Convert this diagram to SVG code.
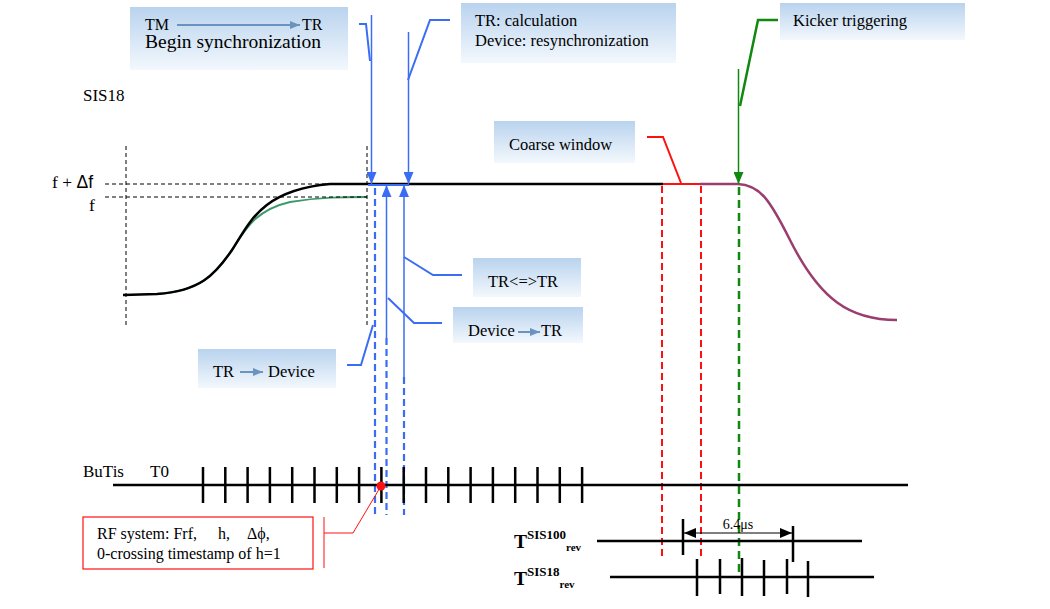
<svg xmlns="http://www.w3.org/2000/svg" width="1050" height="609" viewBox="0 0 1050 609">
<defs>
<linearGradient id="g" x1="0" y1="0" x2="0" y2="1"><stop offset="0" stop-color="#b9d3ee"/><stop offset="1" stop-color="#f3f8fd"/></linearGradient>
<marker id="ab" viewBox="0 0 12 10" refX="12" refY="5" markerWidth="12" markerHeight="10" markerUnits="userSpaceOnUse" orient="auto"><path d="M0,0 L12,5 L0,10 z" fill="#3a6cf4"/></marker>
<marker id="ag" viewBox="0 0 12 10" refX="12" refY="5" markerWidth="12" markerHeight="10" markerUnits="userSpaceOnUse" orient="auto"><path d="M0,0 L12,5 L0,10 z" fill="#118811"/></marker>
<marker id="as" viewBox="0 0 10 8" refX="10" refY="4" markerWidth="10" markerHeight="8" markerUnits="userSpaceOnUse" orient="auto"><path d="M0,0 L10,4 L0,8 z" fill="#6a93c0"/></marker>
<marker id="ak" viewBox="0 0 12 10" refX="12" refY="5" markerWidth="12" markerHeight="10" markerUnits="userSpaceOnUse" orient="auto-start-reverse"><path d="M0,0 L12,5 L0,10 z" fill="#000"/></marker>
</defs>
<style>
.box{fill:url(#g)}
.t{font-family:"Liberation Serif","Times New Roman",serif;font-size:16.5px;fill:#000}
.f16{font-size:16px}
.f17{font-size:17px}
.f18{font-size:17.5px}
.f19{font-size:19.5px}
.f14{font-size:14px}
.sup{font-size:13px}
.sub{font-size:11px}
.s{font-family:"Liberation Sans",Arial,sans-serif}
.b{font-weight:bold}
.bl{stroke:#3a6cf4;fill:none;stroke-width:1.5}
.bc{stroke:#3a6cf4;fill:none;stroke-width:2}
.bd{stroke:#3a6cf4;fill:none;stroke-width:2.2;stroke-dasharray:7,4}
.rd{stroke:#ff1010;fill:none;stroke-width:2;stroke-dasharray:7,4}
.rc{stroke:#ff1010;fill:none;stroke-width:2}
.gd{stroke:#118811;fill:none;stroke-width:2.5;stroke-dasharray:8,5}
.gc{stroke:#118811;fill:none;stroke-width:2.5}
.kd{stroke:#000;fill:none;stroke-width:1;stroke-dasharray:4,3}
.k{stroke:#000;fill:none;stroke-width:2.5}
.sa{stroke:#6a93c0;stroke-width:2;fill:none}
</style>

<g id="curves">
<path d="M157,294 C200,291 215,275 232,250 C245,230 255,210 290,202 C320,197 345,197 367,197" stroke="#3a9a6a" stroke-width="2" fill="none"/>
<path d="M123,295 L157,294 C200,291 215,275 232,250 C250,222 262,190 330,184 L663,184" class="k" stroke-width="2"/>
<path d="M700,184 L738,184 C760,185 770,200 790,240 C820,300 850,320 897,320" stroke="#9a3d6f" stroke-width="2.5" fill="none"/>
</g>

<g id="guides">
<path d="M105,184 L368,184 M105,197 L367,197 M126,146 L126,325 M367,146 L367,325" class="kd"/>
</g>

<g id="connectors">
<path d="M371.5,15 L371.5,184" class="bl" marker-end="url(#ab)"/>
<path d="M408.5,32 L408.5,184" class="bl" marker-end="url(#ab)"/>
<path d="M368,185 L409,185" class="bc"/>
<path d="M386.5,338 L386.5,185" class="bl" marker-end="url(#ab)"/>
<path d="M404,377 L404,185" class="bl" marker-end="url(#ab)"/>
<path d="M375,188 L375,515 M386.5,338 L386.5,515 M404,377 L404,515" class="bd"/>
<path d="M359,24 L366,24 L370,61" class="bc"/>
<path d="M408,80 L430,20 L450,20" class="bc"/>
<path d="M404,257 L433,275 L462,275" class="bc"/>
<path d="M388,298 L414,323 L442,323" class="bc"/>
<path d="M347,365 L361,365 L373,325" class="bc"/>
<path d="M647,137 L663,137 L681,183" class="rc"/>
<path d="M663,184 L700,184" class="rc"/>
<path d="M662,186 L662,560 M701,186 L701,560" class="rd"/>
<path d="M740,106 L758,20 L778,20" class="gc"/>
<path d="M738.5,69 L738.5,184" stroke="#118811" stroke-width="1.5" fill="none" marker-end="url(#ag)"/>
<path d="M739,187 L739,578" class="gd"/>
<path d="M381,486 L353,533 L324,533 M324,517 L324,568" stroke="#ff1010" stroke-width="1" fill="none"/>
</g>

<g id="butis">
<path d="M113,485 L908,485" class="k"/>
<path d="M203,467 V503 M225.3,467 V503 M247.6,467 V503 M269.9,467 V503 M292.2,467 V503 M314.5,467 V503 M336.8,467 V503 M359.1,467 V503 M381.4,467 V503 M403.7,467 V503 M426,467 V503 M448.3,467 V503 M470.6,467 V503 M492.9,467 V503 M515.2,467 V503 M537.5,467 V503 M559.8,467 V503 M582.1,467 V503" class="k" stroke-width="2.2"/>
<circle cx="381" cy="486" r="4.5" fill="#ff1010"/>
<text x="83" y="477" class="t f17">BuTis</text>
<text x="150" y="477" class="t f17">T0</text>
</g>

<g id="rev">
<path d="M597,541 L862,541 M610,577 L874,577" class="k" stroke-width="2"/>
<path d="M683,519 V555 M793,526 V562" class="k" stroke-width="2"/>
<path d="M697,559 V596 M720,559 V594 M742,558 V596 M764,560 V596 M787,559 V594 M808,561 V597" class="k" stroke-width="2"/>
<path d="M684,533 L792,533" stroke="#000" stroke-width="1.2" marker-start="url(#ak)" marker-end="url(#ak)"/>
<text x="738" y="529" class="t f14" text-anchor="middle">6.4μs</text>
<text x="514" y="548" class="t b f19">T<tspan class="sup" dy="-9">SIS100</tspan><tspan class="sub" dy="12">rev</tspan></text>
<text x="514" y="585" class="t b f19">T<tspan class="sup" dy="-9">SIS18</tspan><tspan class="sub" dy="12">rev</tspan></text>
</g>

<g id="labels">
<text x="83" y="101" class="t f17">SIS18</text>
<text x="52" y="188" class="t f18">f + <tspan class="s">Δf</tspan></text>
<text x="89" y="211" class="t f18">f</text>
</g>

<g id="box-tm">
<rect x="130" y="7" width="218" height="63" class="box"/>
<text x="145" y="30" class="t f16">TM</text>
<path d="M177,25 L300,25" class="sa" marker-end="url(#as)"/>
<text x="302" y="30" class="t f16">TR</text>
<text x="145" y="48" class="t f19">Begin synchronization</text>
</g>

<g id="box-calc">
<rect x="461" y="3" width="215" height="60" class="box"/>
<text x="475" y="26" class="t">TR: calculation</text>
<text x="475" y="46" class="t">Device: resynchronization</text>
</g>

<g id="box-kicker">
<rect x="780" y="3" width="185" height="37" class="box"/>
<text x="793" y="26" class="t">Kicker triggering</text>
</g>

<g id="box-coarse">
<rect x="494" y="121" width="141" height="42" class="box"/>
<text x="509" y="150" class="t">Coarse window</text>
</g>

<g id="box-trtr">
<rect x="473" y="258" width="108" height="39" class="box"/>
<text x="488" y="287" class="t">TR&lt;=&gt;TR</text>
</g>

<g id="box-devtr">
<rect x="453" y="307" width="130" height="36" class="box"/>
<text x="468" y="336" class="t">Device</text>
<path d="M518,332 L540,332" class="sa" marker-end="url(#as)"/>
<text x="541" y="336" class="t">TR</text>
</g>

<g id="box-trdev">
<rect x="198" y="349" width="138" height="39" class="box"/>
<text x="213" y="377" class="t">TR</text>
<path d="M240,372 L263,372" class="sa" marker-end="url(#as)"/>
<text x="268" y="377" class="t">Device</text>
</g>

<g id="box-rf">
<rect x="83" y="517" width="230" height="52" fill="#fff" stroke="#ff1010" stroke-width="1.2"/>
<text x="97" y="539" class="t f16">RF system: Frf,</text>
<text x="218" y="539" class="t f16">h,</text>
<text x="247" y="539" class="t f16">Δϕ,</text>
<text x="97" y="559" class="t f16">0-crossing timestamp of h=1</text>
</g>
</svg>
